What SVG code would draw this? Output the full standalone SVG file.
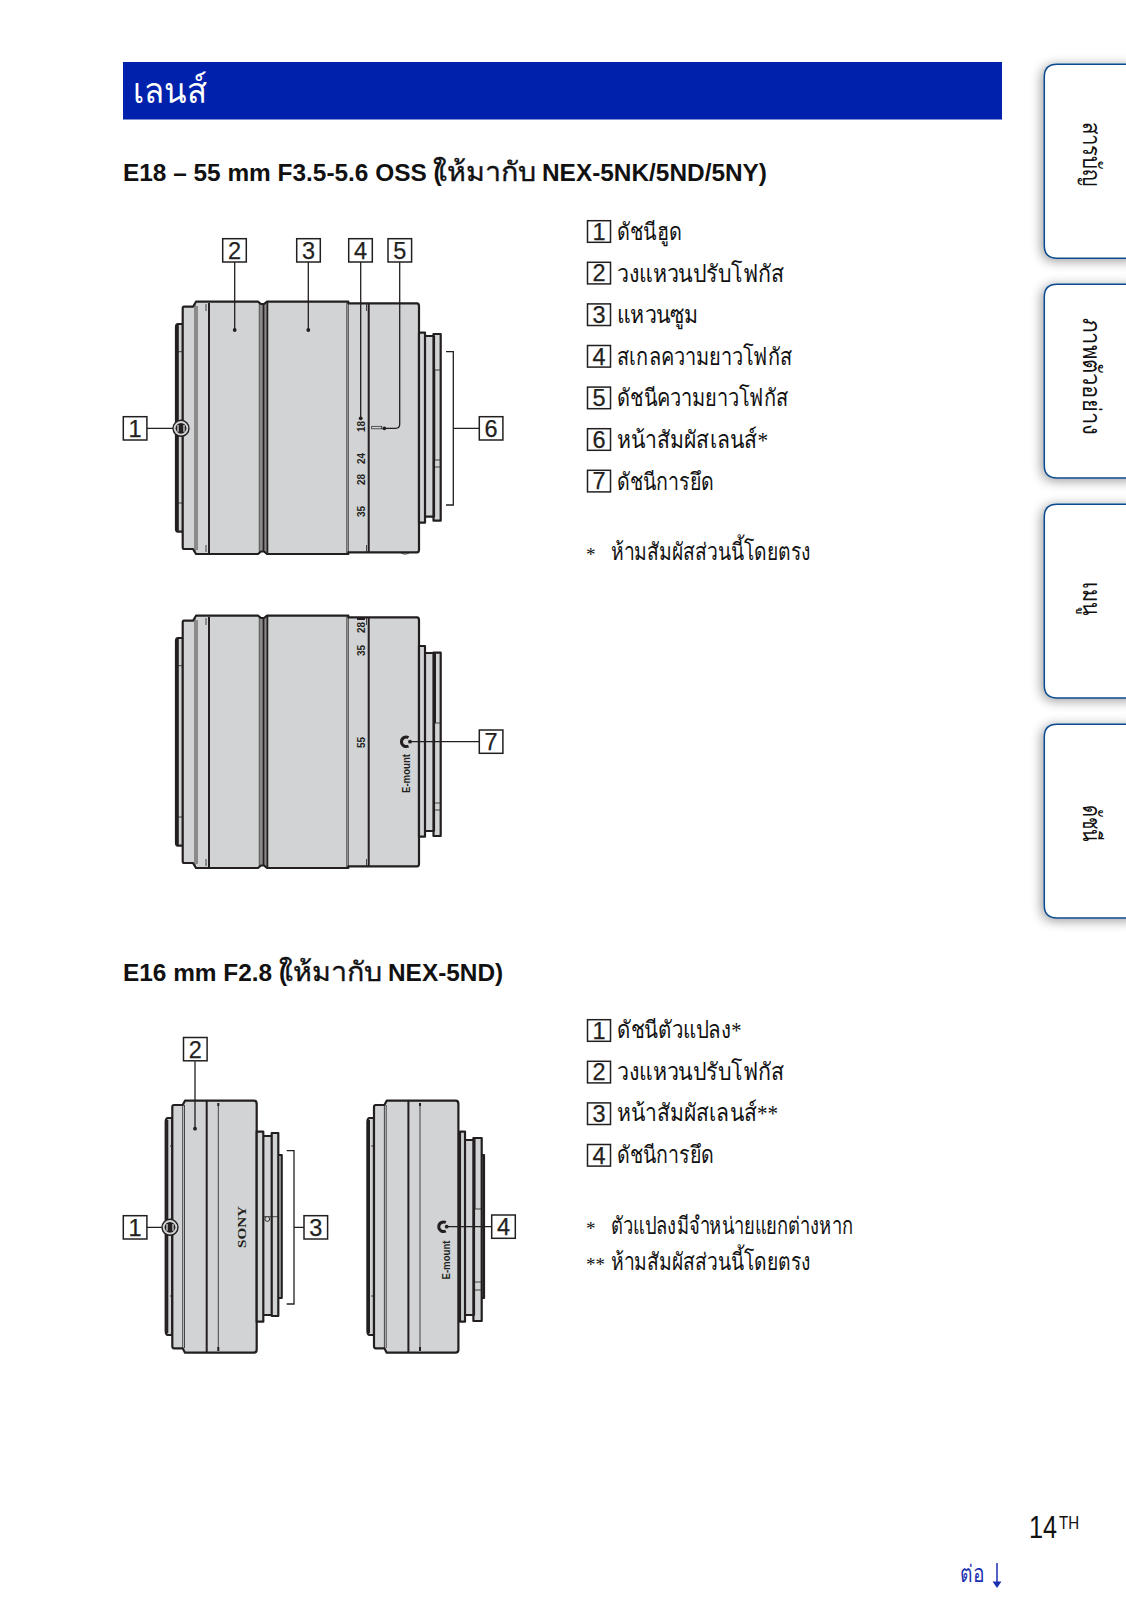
<svg xmlns="http://www.w3.org/2000/svg" xmlns:xlink="http://www.w3.org/1999/xlink" width="1126" height="1600" viewBox="0 0 1126 1600">
<style>
text{font-family:"Liberation Sans","Noto Sans",sans-serif;fill:#111}
.th{font-family:"Liberation Serif","Noto Sans",serif;font-size:24px}
.h{font-weight:700;font-size:24.4px}
.hth{font-family:"Liberation Serif","Noto Sans",serif;font-size:27px;stroke:#111;stroke-width:.35}
.ast{font-family:"Liberation Serif",serif;font-size:19px}
.box{fill:#fff;stroke:#231f20;stroke-width:1.5}
.n{font-size:23.5px;text-anchor:middle;fill:#231f20;stroke:#231f20;stroke-width:.25}
.l{fill:none;stroke:#231f20;stroke-width:1.3}
.o{fill:#d1d3d4;stroke:#231f20;stroke-width:2.2;stroke-linejoin:round}
.a{fill:none;stroke:#231f20;stroke-width:2}
.t{fill:none;stroke:#231f20;stroke-width:.8}
.d{fill:#231f20}
.s{font-weight:700;font-size:10px;fill:#231f20}
.tab{fill:#fff;stroke:#0d4a8f;stroke-width:1.5;filter:url(#sh)}
.tt{font-family:"Liberation Serif","Noto Sans",serif;font-size:25px}
</style>
<defs>
<filter id="sh" x="-30%" y="-15%" width="140%" height="130%"><feGaussianBlur in="SourceAlpha" stdDeviation="6"/><feOffset dx="-2" dy="2"/><feComponentTransfer><feFuncA type="linear" slope=".4"/></feComponentTransfer><feMerge><feMergeNode/><feMergeNode in="SourceGraphic"/></feMerge></filter>
<g id="barrel">
<path class="o" d="M176,327Q176,324 178,324H183V531.7H178Q176,531.7 176,529Z"/>
<path class="a" d="M177.8,325V531"/>
<path class="o" d="M196,301.7H258L261,304H264L267,301.7H348.3V303.3H417Q419,303.3 419,306V549.7Q419,552.3 417,552.3H348.3V554H267L264,551.5H261L258,554H196L193,549H184Q182.7,549 182.7,547V308.7Q182.7,306.7 184,306.7H193Z"/>
<path class="t" d="M195,303V553M197,306V550"/>
<path class="a" d="M209,303V553M368.7,304V552M263.4,304V552"/>
<path class="t" d="M259.3,303V553M261,304V552M265,304V552M348.3,303V553M346.8,303V553M206,304V311M206,545V552M366.5,304V311M366.5,545V552"/>
<path class="a" d="M267.3,302V553"/>
</g>
<g id="icon"><circle cx="0" cy="0" r="8" fill="#d1d3d4" stroke="#231f20" stroke-width="1.4"/><circle cx="0" cy="0" r="5.4" class="d"/><path d="M-3,-3.4V3.4M3,-3.4V3.4" stroke="#d1d3d4" stroke-width="1.3"/></g>
</defs>
<rect width="1126" height="1600" fill="#fff"/>

<g id="header"><rect x="123" y="62" width="879" height="57.5" fill="#0021ab"/><text x="133" y="102.5" class="th" style="font-size:36px;fill:#fff" textLength="74" lengthAdjust="spacingAndGlyphs">เลนส์</text></g>

<g id="tabs">
<g id="tab1"><path class="tab" d="M1135,64.3H1057Q1044.3,64.3 1044.3,77V245.6Q1044.3,258.3 1057,258.3H1135Z"/><text class="tt" transform="translate(1083,121.5) rotate(90)" textLength="65" lengthAdjust="spacingAndGlyphs">สารบัญ</text></g>
<g id="tab2"><path class="tab" d="M1135,284.3H1057Q1044.3,284.3 1044.3,297V465.6Q1044.3,478 1057,478H1135Z"/><text class="tt" transform="translate(1083,318.3) rotate(90)" textLength="116.7" lengthAdjust="spacingAndGlyphs">ภาพตัวอย่าง</text></g>
<g id="tab3"><path class="tab" d="M1135,504.3H1057Q1044.3,504.3 1044.3,517V685.6Q1044.3,698 1057,698H1135Z"/><text class="tt" transform="translate(1083,581.7) rotate(90)" textLength="33.3" lengthAdjust="spacingAndGlyphs">เมนู</text></g>
<g id="tab4"><path class="tab" d="M1135,724.3H1057Q1044.3,724.3 1044.3,737V905.6Q1044.3,918 1057,918H1135Z"/><text class="tt" transform="translate(1083,805) rotate(90)" textLength="36.7" lengthAdjust="spacingAndGlyphs">ดัชนี</text></g>
</g>

<g id="h1"><text x="123" y="181" class="h">E18 – 55 mm F3.5-5.6 OSS (</text><text x="433" y="181" class="hth" textLength="103" lengthAdjust="spacingAndGlyphs">ให้มากับ</text><text x="542" y="181" class="h">NEX-5NK/5ND/5NY)</text></g>
<g id="h2"><text x="123" y="981" class="h">E16 mm F2.8 (</text><text x="279" y="981" class="hth" textLength="103" lengthAdjust="spacingAndGlyphs">ให้มากับ</text><text x="388" y="981" class="h">NEX-5ND)</text></g>

<g id="lens1">
<use xlink:href="#barrel" href="#barrel"/>
<path class="o" d="M419,332.7H425V522.7H419ZM425,336H434V516.7H425ZM433.5,334H440.7V520.7H433.5Z"/>
<path class="t" d="M176,351.7H183M176,503H183M433.5,370H440.7M433.5,460H440.7M433.5,467H440.7"/>
<path class="a" d="M434.2,370V460"/>
<path class="t" d="M400,552.3Q405,556 410,552.3"/>
<g class="scale"><text class="s" transform="translate(365,432) rotate(-90)">18</text><text class="s" transform="translate(365,464) rotate(-90)">24</text><text class="s" transform="translate(365,485) rotate(-90)">28</text><text class="s" transform="translate(365,517) rotate(-90)">35</text></g>
<rect x="371.7" y="426.3" width="10" height="2.5" fill="#d1d3d4" stroke="#231f20" stroke-width=".7"/>
</g>

<g id="lens2" >
<use xlink:href="#barrel" href="#barrel" y="314"/>
<path class="o" d="M419,646H425V836.7H419ZM425,653H434V831H425ZM433.5,652.7H440.7V836H433.5Z"/>
<path class="t" d="M176,665.7H183M176,817H183M433.5,723H440.7M433.5,803H440.7M433.5,810H440.7"/>
<path class="a" d="M435,653V723"/>
<g class="scale"><text class="s" transform="translate(365,633) rotate(-90)">28</text><text class="s" transform="translate(365,656) rotate(-90)">35</text><text class="s" transform="translate(365,748) rotate(-90)">55</text></g>
<rect x="357" y="618" width="8" height="2" class="d"/>
<path d="M408.5,737.5A4.8,4.8 0 1 0 408.5,746" fill="none" stroke="#231f20" stroke-width="3"/>
<text class="s" style="font-size:10.5px" transform="translate(410,793) rotate(-90)" textLength="39" lengthAdjust="spacingAndGlyphs">E-mount</text>
</g>

<g id="lens3">
<path class="o" d="M165.7,1122Q165.7,1118 168,1118H172.3V1335H168Q165.7,1335 165.7,1331Z"/>
<path class="a" d="M167.3,1120V1333"/>
<path class="o" d="M185,1100.7H254Q256.7,1100.7 256.7,1104V1349.5Q256.7,1352.7 254,1352.7H185L182.7,1348.3H174Q172.3,1348.3 172.3,1346V1107Q172.3,1105 174,1105H182.7Z"/>
<path class="o" d="M256.7,1131.7H263.3V1321.7H256.7ZM263.3,1136H271.7V1315H263.3ZM271.7,1133H278.3V1316H271.7ZM278.3,1155H281.7V1298H278.3Z"/>
<path class="a" d="M206.7,1101V1352M218.3,1103V1106M218.3,1347V1351"/>
<path class="t" d="M182.7,1105V1348M184.5,1105V1348M218.3,1105V1348M263.3,1216.7H278M170,1146H172M170,1296H172"/>
<circle cx="267.3" cy="1219" r="2.4" fill="#d1d3d4" stroke="#231f20" stroke-width=".9"/>
<text style="font-family:'Liberation Serif',serif;font-weight:700;font-size:11.5px;fill:#231f20" textLength="42" lengthAdjust="spacingAndGlyphs" transform="translate(246.2,1248) rotate(-90)">SONY</text>
</g>

<g id="lens4">
<path class="o" d="M367.4,1122Q367.4,1118 369.7,1118H374V1335H369.7Q367.4,1335 367.4,1331Z"/>
<path class="a" d="M369,1120V1333"/>
<path class="o" d="M386.7,1100.7H455.7Q458.4,1100.7 458.4,1104V1349.5Q458.4,1352.7 455.7,1352.7H386.7L384.4,1348.3H375.7Q374,1348.3 374,1346V1107Q374,1105 375.7,1105H384.4Z"/>
<path class="o" d="M460,1131.7H465V1321.7H460ZM465,1140H474V1315H465ZM473.4,1138H481.7V1321H473.4ZM481.7,1155H484V1298H481.7Z"/>
<path class="a" d="M408.4,1101V1352M420,1103V1106M420,1347V1351M474.5,1138V1209"/>
<path class="t" d="M384.4,1105V1348M386.2,1105V1348M420,1105V1348M473.4,1209H481.7M473.4,1282H481.7M473.4,1290H481.7M371,1146H374M371,1296H374"/>
<path d="M445.8,1222.5A4.8,4.8 0 1 0 445.8,1231" fill="none" stroke="#231f20" stroke-width="3"/>
<text class="s" style="font-size:10.5px" transform="translate(449.5,1279.5) rotate(-90)" textLength="39" lengthAdjust="spacingAndGlyphs">E-mount</text>
</g>

<g id="connectors">
<path class="l" d="M147,428.3H173M234.7,262V330M308.3,262V330M360.7,262V418.3M399.7,262V424.3Q399.7,428.3 395.7,428.3H384.3M479.3,428.3H453.3"/>
<path class="l" d="M446,351.7H453.3V505H446"/>
<path class="l" d="M410,741.7H479.3"/>
<path class="l" d="M147,1227.3H162M195,1061.3V1128.7M304,1227.3H294M286.7,1150.7H294V1304H286.7"/>
<path class="l" d="M446.7,1226.7H491.7"/>
<g class="d"><circle cx="234.7" cy="330" r="1.9"/><circle cx="308.3" cy="330" r="1.9"/><circle cx="360.7" cy="418.3" r="1.9"/><circle cx="384.3" cy="428.3" r="1.9"/><circle cx="410" cy="741.7" r="1.9"/><circle cx="195" cy="1128.7" r="1.9"/><circle cx="446.7" cy="1226.7" r="1.9"/></g>
<use xlink:href="#icon" href="#icon" x="181" y="428.3"/>
<use xlink:href="#icon" href="#icon" x="170" y="1227.3"/>
</g>

<g id="callouts">
<g><rect class="box" x="123.3" y="416.7" width="23.6" height="23.3"/><text class="n" x="135" y="436.8">1</text></g>
<g><rect class="box" x="222.7" y="238.7" width="23.6" height="23.3"/><text class="n" x="234.5" y="258.8">2</text></g>
<g><rect class="box" x="296.7" y="238.7" width="23.6" height="23.3"/><text class="n" x="308.5" y="258.8">3</text></g>
<g><rect class="box" x="348.7" y="238.7" width="23.6" height="23.3"/><text class="n" x="360.5" y="258.8">4</text></g>
<g><rect class="box" x="388" y="238.7" width="23.6" height="23.3"/><text class="n" x="399.8" y="258.8">5</text></g>
<g><rect class="box" x="479.3" y="416.7" width="23.6" height="23.3"/><text class="n" x="491" y="436.8">6</text></g>
<g><rect class="box" x="479.3" y="730" width="23.6" height="23.3"/><text class="n" x="491" y="750.1">7</text></g>
<g><rect class="box" x="183.5" y="1037.5" width="23.6" height="23.3"/><text class="n" x="195.3" y="1057.6">2</text></g>
<g><rect class="box" x="123.3" y="1215.7" width="23.6" height="23.3"/><text class="n" x="135" y="1235.8">1</text></g>
<g><rect class="box" x="304" y="1215.7" width="23.6" height="23.3"/><text class="n" x="315.8" y="1235.8">3</text></g>
<g><rect class="box" x="491.7" y="1215" width="23.6" height="23.3"/><text class="n" x="503.5" y="1235.1">4</text></g>
</g>

<g id="list1">
<g><rect class="box" x="587.5" y="220.7" width="23" height="21.6"/><text class="n" x="599" y="239.7">1</text><text class="th" x="617" y="240" textLength="65.3" lengthAdjust="spacingAndGlyphs">ดัชนีฮูด</text></g>
<g><rect class="box" x="587.5" y="262.3" width="23" height="21.6"/><text class="n" x="599" y="281.3">2</text><text class="th" x="617" y="281.6" textLength="167.4" lengthAdjust="spacingAndGlyphs">วงแหวนปรับโฟกัส</text></g>
<g><rect class="box" x="587.5" y="303.9" width="23" height="21.6"/><text class="n" x="599" y="322.9">3</text><text class="th" x="617" y="323.2" textLength="81.7" lengthAdjust="spacingAndGlyphs">แหวนซูม</text></g>
<g><rect class="box" x="587.5" y="345.5" width="23" height="21.6"/><text class="n" x="599" y="364.5">4</text><text class="th" x="617" y="364.8" textLength="175.6" lengthAdjust="spacingAndGlyphs">สเกลความยาวโฟกัส</text></g>
<g><rect class="box" x="587.5" y="387.1" width="23" height="21.6"/><text class="n" x="599" y="406.1">5</text><text class="th" x="617" y="406.4" textLength="171.5" lengthAdjust="spacingAndGlyphs">ดัชนีความยาวโฟกัส</text></g>
<g><rect class="box" x="587.5" y="428.7" width="23" height="21.6"/><text class="n" x="599" y="447.7">6</text><text class="th" x="617" y="448" textLength="151" lengthAdjust="spacingAndGlyphs">หน้าสัมผัสเลนส์*</text></g>
<g><rect class="box" x="587.5" y="470.3" width="23" height="21.6"/><text class="n" x="599" y="489.3">7</text><text class="th" x="617" y="489.6" textLength="97" lengthAdjust="spacingAndGlyphs">ดัชนีการยึด</text></g>
<text class="ast" x="586" y="561">*</text><text class="th" x="611" y="560" textLength="200" lengthAdjust="spacingAndGlyphs">ห้ามสัมผัสส่วนนี้โดยตรง</text>
</g>

<g id="list2">
<g><rect class="box" x="587.5" y="1019.7" width="23" height="21.6"/><text class="n" x="599" y="1038.7">1</text><text class="th" x="617" y="1038" textLength="124.6" lengthAdjust="spacingAndGlyphs">ดัชนีตัวแปลง*</text></g>
<g><rect class="box" x="587.5" y="1061.3" width="23" height="21.6"/><text class="n" x="599" y="1080.3">2</text><text class="th" x="617" y="1079.6" textLength="167.4" lengthAdjust="spacingAndGlyphs">วงแหวนปรับโฟกัส</text></g>
<g><rect class="box" x="587.5" y="1102.9" width="23" height="21.6"/><text class="n" x="599" y="1121.9">3</text><text class="th" x="617" y="1121.2" textLength="161" lengthAdjust="spacingAndGlyphs">หน้าสัมผัสเลนส์**</text></g>
<g><rect class="box" x="587.5" y="1144.5" width="23" height="21.6"/><text class="n" x="599" y="1163.5">4</text><text class="th" x="617" y="1162.8" textLength="97" lengthAdjust="spacingAndGlyphs">ดัชนีการยึด</text></g>
<text class="ast" x="586" y="1235">*</text><text class="th" x="611" y="1234" textLength="242" lengthAdjust="spacingAndGlyphs">ตัวแปลงมีจำหน่ายแยกต่างหาก</text>
<text class="ast" x="586" y="1271">**</text><text class="th" x="611" y="1270" textLength="200" lengthAdjust="spacingAndGlyphs">ห้ามสัมผัสส่วนนี้โดยตรง</text>
</g>

<g id="footer">
<text style="font-size:32px" transform="translate(1029,1537.7) scale(.79,1)">14</text>
<text style="font-size:18px" transform="translate(1059,1529) scale(.84,1)">TH</text>
<text x="960" y="1582" class="th" style="fill:#1a2fb0" textLength="24" lengthAdjust="spacingAndGlyphs">ต่อ</text>
<path d="M997,1563V1582" stroke="#1a2fb0" stroke-width="1.5"/><path d="M992.5,1581.5H1001.5L997,1588Z" fill="#1a2fb0"/>
</g>
</svg>
